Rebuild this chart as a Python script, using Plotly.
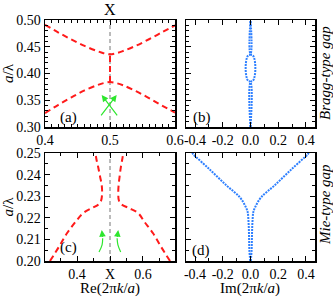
import plotly.graph_objects as go

# ---------------- data ----------------
# (a) Bragg-type gap, real part
bragg_k = [0.40, 0.42, 0.44, 0.46, 0.48, 0.49, 0.50, 0.51, 0.52, 0.54, 0.56, 0.58, 0.60]
bragg_lower = [0.326, 0.341, 0.355, 0.368, 0.378, 0.382, 0.384, 0.382, 0.378, 0.367, 0.354, 0.340, 0.327]
bragg_upper = [0.491, 0.477, 0.464, 0.452, 0.442, 0.438, 0.436, 0.438, 0.442, 0.452, 0.464, 0.477, 0.490]
bragg_gap_k = [0.5, 0.5]
bragg_gap_f = [0.384, 0.436]

# (b) Bragg-type gap, imaginary part
bragg_im_f = [0.300, 0.384, 0.386, 0.390, 0.400, 0.410, 0.420, 0.430, 0.434, 0.436, 0.500]
bragg_im_k = [0.000, 0.000, 0.016, 0.025, 0.033, 0.035, 0.033, 0.025, 0.016, 0.000, 0.000]

# (c) Mie-type gap, real part
mie_f = [0.200, 0.2065, 0.2127, 0.218, 0.2222, 0.2245, 0.2262, 0.228, 0.231, 0.235, 0.239, 0.2436, 0.247, 0.250]
mie_left_k = [0.318, 0.345, 0.369, 0.395, 0.419, 0.445, 0.465, 0.473, 0.476, 0.475, 0.470, 0.464, 0.459, 0.456]
mie_right_k = [0.682, 0.655, 0.631, 0.605, 0.585, 0.557, 0.535, 0.527, 0.525, 0.526, 0.529, 0.533, 0.537, 0.540]

# (d) Mie-type gap, imaginary part
mie_im_f = [0.200, 0.205, 0.210, 0.215, 0.219, 0.2225, 0.2250, 0.2295, 0.2350, 0.2423, 0.2495, 0.250]
mie_im_k = [0.002, 0.008, 0.010, 0.012, 0.015, 0.020, 0.034, 0.077, 0.173, 0.293, 0.414, 0.420]

# green arrows (a): tail -> head
arr_a_tail_k = [0.4846, 0.5128]
arr_a_tail_f = [0.319, 0.319]
arr_a_head_k = [0.5103, 0.4872]
arr_a_head_f = [0.360, 0.360]
# green curved arrows (c)
arr_c_left_k = [0.4667, 0.4760, 0.4778, 0.4750]
arr_c_left_f = [0.2042, 0.2075, 0.2105, 0.2143]
arr_c_right_k = [0.5324, 0.5240, 0.5215, 0.5250]
arr_c_right_f = [0.2042, 0.2075, 0.2105, 0.2143]

# ---------------- figure ----------------
FONT = "Liberation Serif"
RED = "#ff1a1a"
BLUE = "#2f80ff"
GREEN = "#2ee62e"
W, H = 333, 297

fig = go.Figure()

def red_line(x, y, xa, ya):
    fig.add_trace(go.Scatter(x=x, y=y, mode="lines", xaxis=xa, yaxis=ya,
                             line=dict(color=RED, width=2, dash="6px,4px", shape="spline"),
                             showlegend=False, hoverinfo="skip"))

def blue_line(x, y, xa, ya):
    fig.add_trace(go.Scatter(x=x, y=y, mode="lines", xaxis=xa, yaxis=ya,
                             line=dict(color=BLUE, width=2, dash="2px,1px", shape="spline"),
                             showlegend=False, hoverinfo="skip"))

def gray_vline(xa, ya, y0, y1):
    fig.add_trace(go.Scatter(x=[0.5, 0.5], y=[y0, y1], mode="lines", xaxis=xa, yaxis=ya,
                             line=dict(color="#777777", width=1, dash="4px,3px"),
                             showlegend=False, hoverinfo="skip"))

# (a)
gray_vline("x", "y", 0.30, 0.50)
red_line(bragg_k, bragg_lower, "x", "y")
red_line(bragg_k, bragg_upper, "x", "y")
red_line(bragg_gap_k, bragg_gap_f, "x", "y")
# (b)
blue_line(bragg_im_k, bragg_im_f, "x2", "y2")
blue_line([-v for v in bragg_im_k], bragg_im_f, "x2", "y2")
# (c)
gray_vline("x3", "y3", 0.20, 0.25)
red_line(mie_left_k, mie_f, "x3", "y3")
red_line(mie_right_k, mie_f, "x3", "y3")
for kx, fy in ((arr_c_left_k, arr_c_left_f), (arr_c_right_k, arr_c_right_f)):
    fig.add_trace(go.Scatter(x=kx[:-1], y=fy[:-1], mode="lines", xaxis="x3", yaxis="y3",
                             line=dict(color=GREEN, width=1.2, shape="spline"),
                             showlegend=False, hoverinfo="skip"))
# (d)
blue_line(mie_im_k, mie_im_f, "x4", "y4")
blue_line([-v for v in mie_im_k], mie_im_f, "x4", "y4")

# domains (pixels -> paper)
def xd(a, b):
    return [a / W, b / W]

def yd(top, bot):
    return [1 - bot / H, 1 - top / H]

tickfont = dict(family=FONT, size=14, color="black")

def axis_common(**kw):
    d = dict(showline=True, linecolor="black", linewidth=1.5, mirror="allticks",
             ticks="inside", ticklen=5, tickwidth=1, tickcolor="black", automargin=False,
             showgrid=False, zeroline=False, tickfont=tickfont)
    d.update(kw)
    return d

minor = lambda dt: dict(dtick=dt, ticks="inside", ticklen=3, tickcolor="black", showgrid=False)

fig.update_layout(
    width=W, height=H, margin=dict(l=0, r=0, t=0, b=0, autoexpand=False),
    paper_bgcolor="white", plot_bgcolor="white",
    font=dict(family=FONT, color="black"),
    xaxis=axis_common(domain=xd(45, 175), anchor="y", range=[0.4, 0.6],
                      tickvals=[0.4, 0.5, 0.6], ticktext=["0.4", "0.5", "0.6"], minor=minor(0.01)),
    yaxis=axis_common(domain=yd(20, 127), anchor="x", range=[0.30, 0.50],
                      tickvals=[0.30, 0.35, 0.40, 0.45, 0.50],
                      ticktext=["0.30", "0.35", "0.40", "0.45", "0.50"], minor=minor(0.01),
                      title=dict(text="<i>a</i>/λ", font=dict(family=FONT, size=15), standoff=4)),
    xaxis2=axis_common(domain=xd(186, 315), anchor="y2", range=[-0.465, 0.465],
                       tickvals=[-0.4, -0.2, 0.0, 0.2, 0.4],
                       ticktext=["-0.4", "-0.2", "0.0", "0.2", "0.4"], minor=minor(0.1)),
    yaxis2=axis_common(domain=yd(20, 127), anchor="x2", range=[0.30, 0.50],
                       tickvals=[0.30, 0.35, 0.40, 0.45, 0.50], showticklabels=False,
                       minor=minor(0.01)),
    xaxis3=axis_common(domain=xd(45, 175), anchor="y3", range=[0.303, 0.697],
                       tickvals=[0.4, 0.5, 0.6], ticktext=["0.4", "X", "0.6"], minor=minor(0.05)),
    yaxis3=axis_common(domain=yd(153, 261), anchor="x3", range=[0.20, 0.25],
                       tickvals=[0.20, 0.21, 0.22, 0.23, 0.24, 0.25],
                       ticktext=["0.20", "0.21", "0.22", "0.23", "0.24", "0.25"], minor=minor(0.005),
                       title=dict(text="<i>a</i>/λ", font=dict(family=FONT, size=15), standoff=4)),
    xaxis4=axis_common(domain=xd(186, 315), anchor="y4", range=[-0.465, 0.465],
                       tickvals=[-0.4, -0.2, 0.0, 0.2, 0.4],
                       ticktext=["-0.4", "-0.2", "0.0", "0.2", "0.4"], minor=minor(0.1)),
    yaxis4=axis_common(domain=yd(153, 261), anchor="x4", range=[0.20, 0.25],
                       tickvals=[0.20, 0.21, 0.22, 0.23, 0.24, 0.25], showticklabels=False,
                       minor=minor(0.005)),
)

ann = []
# green arrows (a)
for i in range(2):
    ann.append(dict(x=arr_a_head_k[i], y=arr_a_head_f[i], ax=arr_a_tail_k[i], ay=arr_a_tail_f[i],
                    xref="x", yref="y", axref="x", ayref="y", showarrow=True,
                    arrowhead=2, arrowsize=1.1, arrowwidth=1.2, arrowcolor=GREEN, text=""))
# arrowheads (c)
for kx, fy in ((arr_c_left_k, arr_c_left_f), (arr_c_right_k, arr_c_right_f)):
    ann.append(dict(x=kx[-1], y=fy[-1], ax=kx[-2], ay=fy[-2],
                    xref="x3", yref="y3", axref="x3", ayref="y3", showarrow=True,
                    arrowhead=2, arrowsize=1.1, arrowwidth=1.2, arrowcolor=GREEN, text=""))
# top X label
ann.append(dict(x=0.5, y=1 - 10 / H, xref="x", yref="paper", text="X", showarrow=False,
                xanchor="center", yanchor="middle", font=dict(family=FONT, size=16)))
# x-axis titles of bottom panels
for lab, xr, xc in (("Re(2π<i>k</i>/<i>a</i>)", "x3", 0.5), ("Im(2π<i>k</i>/<i>a</i>)", "x4", 0.0)):
    ann.append(dict(x=xc, y=1 - 288.5 / H, xref=xr, yref="paper", text=lab, showarrow=False,
                    xanchor="center", yanchor="middle", font=dict(family=FONT, size=15)))
# panel labels
for lab, px, py in (("(a)", 68, 117), ("(b)", 202, 118), ("(c)", 68, 247), ("(d)", 201, 250)):
    ann.append(dict(x=px / W, y=1 - py / H, xref="paper", yref="paper", text=lab,
                    xanchor="center", yanchor="middle",
                    showarrow=False, font=dict(family=FONT, size=15)))
# side labels
for lab, py in (("Bragg-type gap", 73), ("Mie-type gap", 205)):
    ann.append(dict(x=325 / W, y=1 - py / H, xref="paper", yref="paper", text="<i>" + lab + "</i>",
                    xanchor="center", yanchor="middle",
                    textangle=-90, showarrow=False, font=dict(family=FONT, size=15)))
fig.update_layout(annotations=ann)

fig.write_html("out.html", config={"displayModeBar": False, "staticPlot": True},
               post_script="document.body.style.margin='0';document.body.style.overflow='hidden';")
